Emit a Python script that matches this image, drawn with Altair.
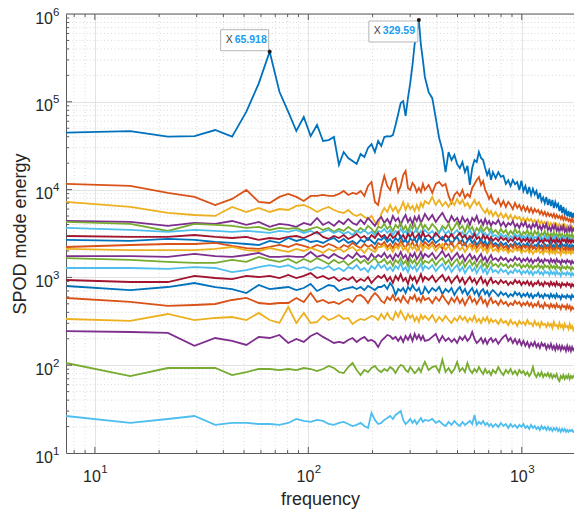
import altair as alt
import pandas as pd

FONT = "Liberation Sans"
AX = "#5a5a5a"
TXT = "#262626"

# frequency bins (bin index k, bin width in Hz)
DF_HZ = 7.32421875
K = list(range(1, 49)) + list(range(50, 101, 2)) + list(range(103, 242, 3))
freq = [k * DF_HZ for k in K]

m01 = [44500, 46400, 40100, 40700, 47700, 40100, 77100, 162000, 372000, 130000, 76600, 46500, 67100, 40700, 54500, 35800, 36700, 39700, 19100, 26800, 22900, 21200, 19600, 25400, 23500, 29800, 33000, 26800, 35800, 31400, 39700, 40700, 40100, 41700, 54500, 72600, 96900, 102000, 68900, 110000, 164000, 262000, 455000, 608000, 855000, 444000, 299000, 192000,
       129000, 110000, 65300, 38700, 28200, 15800, 26800, 21700, 24800, 19500, 17600, 20600, 15800, 18600, 11300, 17600, 21700, 20600, 26800, 22900, 21700, 17600, 14700, 16700, 12900, 15800,
       13500, 15800, 14000, 14400, 11600, 12800, 11000, 12900, 11500, 12200, 9890, 12600, 9630, 11000, 8900, 10700, 8670, 10200, 8800, 9630, 7800, 9150, 7400, 8100, 7020, 8220, 6680, 7800, 6500, 7610, 6160, 7230, 6400, 6860, 5700, 6680, 5410, 6330, 5270, 5800, 5000, 5700, 4880, 5550, 4760, 5410, 4640]
m02 = [11590, 11000, 9160, 8250, 6680, 7830, 9910, 7230, 7040, 8250, 8920, 8250, 7420, 8470, 8470, 8690, 8470, 8470, 8920, 9650, 8690, 9160, 8920, 9650, 8470, 11000, 12220, 7230, 6680, 10440, 14290, 11000, 9910, 12870, 13560, 9400, 11000, 14670, 16290, 10440, 9910, 11900, 11000, 9400, 10440, 9400, 11590, 9910,
       11290, 9160, 11590, 12220, 11000, 11590, 8470, 7040, 8690, 9400, 8470, 9910, 8040, 8920, 8250, 10440, 11590, 12870, 13920, 11290, 12540, 9910, 8920, 7830, 8690, 7420,
       6860, 7830, 6510, 7420, 6340, 7230, 6680, 6010, 7040, 6170, 6680, 5860, 6510, 5710, 6340, 5560, 6170, 5420, 6010, 5560, 5860, 5280, 5710, 5140, 5560, 5010, 5420, 5010, 5280, 4880, 5280, 4750, 5140, 4750, 5010, 4630, 5010, 4510, 4880, 4510, 4750, 4390, 4630, 4280, 4630, 4280, 4510]
m03 = [7230, 6340, 5420, 5140, 5010, 6340, 5560, 6170, 5560, 6010, 5860, 6510, 6680, 6170, 5560, 6010, 6340, 5860, 5560, 5420, 5860, 5280, 5010, 5280, 4880, 4630, 5010, 4280, 3960, 5280, 6170, 5560, 6680, 5710, 6340, 5420, 6170, 7230, 5860, 6860, 6010, 6510, 5710, 6680, 5860, 7040, 6340, 7420,
       6860, 8250, 6680, 7610, 6510, 7230, 6340, 7420, 6680, 7830, 6860, 7610, 6510, 7040, 6170, 6860, 7610, 6680, 7230, 6340, 5860, 5420, 6010, 5280, 5710, 5010,
       5560, 4880, 5420, 4750, 5280, 4630, 5140, 4510, 5010, 4630, 4880, 4390, 4750, 4280, 4750, 4390, 4630, 4170, 4510, 4170, 4510, 4060, 4390, 4060, 4280, 3960, 4280, 3860, 4170, 3860, 4170, 3760, 4060, 3760, 4060, 3660, 3960, 3660, 3960, 3570, 3860, 3570, 3860, 3570, 3760, 3470, 3760]
m04 = [4390, 4280, 3860, 4170, 4060, 4390, 3960, 4280, 3760, 4060, 3960, 3760, 4170, 3960, 4750, 3960, 4280, 3860, 4390, 4060, 4630, 4170, 3960, 4510, 4060, 4750, 4280, 3860, 4510, 4880, 4170, 4630, 4060, 5010, 4390, 4750, 3960, 4630, 5140, 4280, 4750, 4060, 4880, 4390, 5010, 4170, 4630, 5280,
       4510, 5140, 4280, 4880, 5420, 4630, 4170, 5010, 4390, 4750, 4060, 4880, 4280, 4630, 3960, 4750, 4390, 5010, 4170, 4510, 3960, 4630, 4060, 4390, 3860, 4280,
       4060, 4510, 3860, 4280, 3760, 4170, 3960, 4390, 3760, 4060, 3660, 4170, 3860, 4280, 3660, 3960, 3570, 4060, 3760, 4170, 3570, 3860, 3470, 3960, 3660, 4060, 3470, 3760, 3380, 3860, 3570, 3960, 3380, 3660, 3300, 3760, 3470, 3860, 3300, 3570, 3210, 3660, 3380, 3760, 3300, 3570, 3380]
m05 = [4280, 4060, 3380, 4060, 3960, 3860, 3660, 3760, 3470, 3660, 3570, 3660, 3380, 3570, 3760, 3470, 3660, 3300, 3570, 3380, 3760, 3470, 3300, 3660, 3380, 3860, 3570, 3210, 3760, 3660, 4060, 3570, 3860, 3380, 3960, 3660, 4170, 3470, 3860, 3300, 3960, 3570, 4060, 3380, 3760, 4170, 3570, 3960,
       3470, 4060, 3660, 3210, 3860, 3570, 4060, 3380, 3760, 4280, 3570, 3860, 3300, 3960, 3470, 3760, 3210, 3660, 3380, 3860, 3300, 3570, 3760, 3380, 3660, 3210,
       3470, 3130, 3570, 3210, 3470, 3040, 3380, 3130, 3570, 3210, 3380, 2960, 3300, 3130, 3470, 3040, 3300, 2960, 3380, 3130, 3300, 2890, 3210, 3040, 3380, 2960, 3210, 2890, 3130, 2960, 3300, 2890, 3130, 2810, 3210, 2960, 3130, 2810, 3040, 2890, 3210, 2810, 3040, 2890, 3130, 2810, 3040]
m06 = [3660, 3470, 3300, 3470, 3380, 3300, 3380, 3300, 3210, 3380, 3300, 3470, 3210, 3380, 3130, 3300, 3470, 3210, 3380, 3130, 3300, 3040, 3380, 3210, 3470, 3130, 3300, 3040, 3380, 3300, 3570, 3210, 3470, 3040, 3380, 3130, 3570, 3210, 3380, 2960, 3470, 3130, 3300, 3570, 3040, 3380, 3210, 3470,
       3130, 3380, 2960, 3300, 3570, 3130, 3380, 2960, 3210, 3470, 3040, 3300, 2890, 3210, 3470, 3040, 3300, 2960, 3210, 3470, 2960, 3210, 2890, 3130, 3380, 2960,
       3040, 2810, 3130, 2890, 3040, 2740, 2960, 2810, 3130, 2890, 3040, 2740, 2960, 2810, 3040, 2740, 2960, 2670, 2890, 2810, 3040, 2740, 2890, 2670, 2960, 2740, 2890, 2670, 2810, 2740, 2960, 2670, 2890, 2600, 2810, 2740, 2890, 2670, 2810, 2600, 2890, 2670, 2810, 2600, 2740, 2670, 2810]
m07 = [2960, 2890, 2890, 3040, 2890, 2810, 2890, 2670, 2810, 2740, 2890, 2960, 2810, 3040, 3300, 2890, 2740, 2960, 2810, 3040, 2740, 2890, 3130, 2810, 2960, 2670, 3040, 2810, 3210, 2890, 3040, 2740, 3130, 2810, 2960, 3300, 2810, 3040, 2670, 3130, 2890, 3210, 2740, 2960, 3130, 2810, 3300, 2890,
       3040, 2740, 3210, 2890, 2670, 3040, 2810, 3130, 2740, 2960, 3210, 2810, 3040, 2670, 2960, 2810, 3130, 2740, 2890, 2600, 3040, 2740, 2960, 2670, 2890, 2600,
       2810, 2600, 2890, 2670, 2810, 2530, 2740, 2600, 2890, 2670, 2810, 2530, 2740, 2600, 2810, 2530, 2740, 2470, 2670, 2600, 2810, 2530, 2670, 2470, 2740, 2600, 2670, 2470, 2810, 2530, 2670, 2470, 2740, 2530, 2670, 2400, 2740, 2600, 2670, 2470, 2740, 2530, 2670, 2470, 2670, 2530, 2670]
m08 = [2670, 2600, 2740, 2670, 2530, 2470, 2400, 2340, 2600, 2470, 2810, 2600, 2740, 2530, 2600, 2470, 2670, 2810, 2530, 2740, 2470, 2600, 2400, 2670, 2530, 2810, 2600, 2400, 2740, 2670, 2890, 2530, 2740, 2470, 2810, 2600, 2960, 2530, 2670, 2400, 2810, 2600, 2740, 2470, 2890, 2670, 2530, 2810,
       2530, 2810, 2470, 2670, 2890, 2530, 2740, 2400, 2670, 2890, 2470, 2670, 2340, 2600, 2810, 2470, 2670, 2340, 2530, 2740, 2400, 2600, 2280, 2530, 2670, 2340,
       2470, 2280, 2530, 2340, 2470, 2220, 2400, 2280, 2530, 2340, 2470, 2220, 2400, 2280, 2470, 2220, 2400, 2160, 2340, 2280, 2470, 2220, 2340, 2160, 2400, 2280, 2340, 2160, 2470, 2220, 2340, 2160, 2400, 2220, 2340, 2110, 2400, 2280, 2340, 2160, 2400, 2220, 2340, 2160, 2340, 2220, 2340]
m09 = [2220, 2340, 2400, 2400, 2470, 2280, 2160, 2110, 2220, 2340, 2220, 2400, 2280, 2160, 2340, 2220, 2400, 2280, 2110, 2340, 2220, 2470, 2280, 2160, 2400, 2220, 2340, 2110, 2470, 2340, 2530, 2220, 2400, 2160, 2470, 2280, 2600, 2340, 2160, 2470, 2280, 2530, 2220, 2400, 2110, 2470, 2280, 2530,
       2280, 2530, 2220, 2400, 2110, 2470, 2280, 2530, 2160, 2340, 2600, 2280, 2470, 2160, 2400, 2220, 2470, 2160, 2340, 2530, 2220, 2400, 2110, 2340, 2530, 2220,
       2340, 2110, 2400, 2160, 2280, 2050, 2340, 2160, 2400, 2110, 2280, 2050, 2340, 2160, 2280, 2050, 2340, 2110, 2220, 2050, 2280, 2110, 2220, 2000, 2280, 2110, 2220, 2000, 2280, 2050, 2160, 2000, 2280, 2110, 2160, 2000, 2220, 2050, 2160, 2000, 2220, 2050, 2160, 2000, 2160, 2050, 2160]
m10 = [2110, 2050, 2050, 2050, 2110, 2220, 2050, 2000, 2160, 2050, 1950, 2110, 2000, 2160, 2050, 1900, 2110, 2000, 2160, 1950, 2110, 2220, 2000, 2110, 1900, 2160, 2050, 1950, 2220, 2220, 2340, 2050, 2220, 1950, 2280, 2110, 2400, 2050, 2220, 1950, 2340, 2110, 2280, 2000, 2160, 2400, 2050, 2280,
       2110, 2340, 2000, 2220, 2400, 2050, 2280, 1950, 2160, 2340, 2050, 2220, 1950, 2160, 2340, 2050, 2220, 1950, 2110, 2280, 2000, 2160, 1900, 2110, 2280, 2000,
       2110, 1950, 2160, 2000, 2110, 1900, 2050, 1950, 2160, 2000, 2110, 1900, 2050, 1950, 2110, 1900, 2050, 1850, 2000, 1950, 2110, 1900, 2000, 1850, 2050, 1950, 2000, 1850, 2050, 1900, 2000, 1850, 2050, 1900, 1950, 1800, 2050, 1900, 1950, 1850, 2000, 1900, 1950, 1850, 2000, 1900, 1950]
m11 = [1750, 1750, 1710, 1850, 1750, 1710, 1800, 1900, 1710, 1710, 1750, 1710, 1710, 1950, 1710, 1800, 1660, 1850, 1710, 1620, 1800, 1660, 1900, 1710, 1750, 1580, 1850, 1660, 1800, 1710, 1900, 1660, 1800, 1580, 1850, 1710, 1950, 1660, 1800, 1540, 1850, 1710, 1900, 1620, 1750, 1950, 1660, 1850,
       1710, 1900, 1620, 1800, 2000, 1710, 1850, 1580, 1750, 1900, 1660, 1800, 1540, 1710, 1850, 1620, 1750, 1540, 1710, 1850, 1580, 1710, 1500, 1660, 1800, 1580,
       1660, 1540, 1710, 1580, 1660, 1500, 1620, 1540, 1710, 1580, 1660, 1500, 1620, 1540, 1660, 1500, 1620, 1460, 1580, 1540, 1660, 1500, 1580, 1460, 1620, 1540, 1580, 1460, 1620, 1500, 1580, 1460, 1620, 1500, 1540, 1420, 1580, 1500, 1540, 1460, 1580, 1500, 1540, 1420, 1540, 1460, 1500]
m12 = [1660, 1580, 1500, 1460, 1460, 1580, 1500, 1710, 1580, 1500, 1620, 1460, 1620, 1500, 1660, 1540, 1420, 1580, 1460, 1540, 1380, 1500, 1620, 1460, 1580, 1420, 1540, 1660, 1460, 1500, 1620, 1420, 1540, 1350, 1580, 1460, 1660, 1420, 1540, 1350, 1620, 1460, 1580, 1380, 1500, 1660, 1420, 1540,
       1460, 1620, 1380, 1540, 1660, 1420, 1580, 1350, 1500, 1620, 1380, 1540, 1310, 1460, 1580, 1380, 1500, 1310, 1460, 1580, 1350, 1460, 1280, 1420, 1540, 1350,
       1420, 1310, 1460, 1350, 1420, 1280, 1380, 1310, 1460, 1350, 1420, 1280, 1380, 1310, 1420, 1280, 1380, 1250, 1350, 1310, 1420, 1280, 1350, 1250, 1380, 1310, 1350, 1250, 1380, 1280, 1350, 1250, 1380, 1280, 1310, 1210, 1350, 1280, 1310, 1250, 1350, 1280, 1310, 1210, 1310, 1250, 1280]
m13 = [1280, 1280, 1250, 1310, 1280, 1150, 1210, 1310, 1380, 1310, 1380, 1250, 1310, 1210, 1310, 1250, 1350, 1210, 1280, 1180, 1310, 1250, 1380, 1210, 1280, 1150, 1350, 1250, 1420, 1280, 1380, 1210, 1310, 1180, 1350, 1250, 1460, 1210, 1310, 1150, 1380, 1250, 1350, 1180, 1280, 1420, 1210, 1350,
       1250, 1380, 1180, 1310, 1420, 1210, 1350, 1150, 1280, 1380, 1180, 1310, 1120, 1250, 1350, 1180, 1280, 1120, 1250, 1350, 1150, 1250, 1090, 1210, 1310, 1150,
       1210, 1120, 1250, 1150, 1210, 1090, 1180, 1120, 1250, 1150, 1210, 1090, 1180, 1120, 1210, 1090, 1180, 1065, 1150, 1120, 1210, 1090, 1150, 1065, 1180, 1120, 1150, 1065, 1180, 1090, 1150, 1065, 1180, 1090, 1120, 1040, 1150, 1090, 1120, 1065, 1150, 1090, 1120, 1040, 1120, 1065, 1120]
m14 = [934, 886, 886, 1040, 984, 958, 1040, 1010, 1040, 984, 1065, 984, 1040, 1120, 984, 1040, 958, 1010, 910, 984, 934, 1010, 886, 958, 910, 1010, 863, 958, 1040, 984, 1065, 910, 1010, 863, 1040, 934, 1090, 910, 984, 841, 1040, 934, 1010, 863, 958, 1090, 910, 1010,
       934, 1040, 886, 984, 1065, 910, 1010, 863, 958, 1040, 886, 984, 841, 934, 1010, 886, 958, 841, 934, 1010, 863, 934, 819, 910, 984, 863,
       910, 841, 934, 863, 910, 819, 886, 841, 934, 863, 910, 819, 886, 841, 910, 819, 886, 798, 863, 841, 910, 819, 863, 798, 886, 841, 863, 798, 886, 819, 863, 798, 886, 819, 841, 777, 863, 819, 841, 798, 863, 819, 841, 777, 841, 798, 841]
m15 = [798, 718, 777, 863, 777, 737, 664, 819, 737, 757, 777, 718, 757, 841, 700, 757, 819, 798, 700, 737, 757, 777, 737, 777, 718, 798, 757, 718, 777, 777, 819, 737, 863, 777, 630, 737, 700, 757, 664, 777, 718, 819, 737, 700, 757, 647, 664, 777,
       664, 757, 700, 777, 647, 737, 682, 757, 630, 718, 777, 664, 737, 630, 700, 757, 647, 718, 614, 700, 737, 647, 700, 614, 682, 718,
       664, 614, 682, 630, 664, 598, 647, 614, 682, 630, 664, 598, 647, 614, 664, 598, 647, 583, 630, 614, 664, 598, 630, 583, 647, 614, 630, 583, 647, 598, 630, 583, 647, 598, 614, 568, 630, 598, 614, 583, 630, 598, 614, 568, 630, 598, 614]
m16 = [583, 525, 473, 485, 498, 553, 583, 511, 498, 511, 511, 583, 525, 664, 525, 553, 511, 525, 498, 539, 568, 525, 614, 630, 583, 511, 598, 664, 614, 539, 511, 598, 553, 630, 539, 583, 525, 614, 553, 511, 598, 568, 630, 539, 583, 525, 614, 553,
       583, 511, 598, 539, 630, 553, 498, 583, 525, 598, 511, 568, 485, 553, 614, 525, 568, 498, 553, 598, 511, 553, 473, 539, 583, 511,
       539, 485, 553, 498, 525, 473, 511, 485, 539, 498, 525, 473, 511, 485, 525, 473, 511, 460, 498, 473, 525, 460, 485, 449, 511, 473, 485, 449, 498, 460, 485, 449, 498, 460, 473, 437, 485, 460, 473, 437, 485, 449, 473, 426, 460, 437, 449]
m17 = [336, 319, 383, 327, 345, 354, 327, 394, 327, 303, 460, 303, 394, 303, 311, 364, 327, 345, 373, 336, 345, 295, 319, 336, 327, 345, 364, 354, 327, 383, 336, 394, 345, 327, 404, 354, 415, 364, 327, 383, 345, 373, 319, 354, 311, 373, 336, 364,
       327, 373, 311, 354, 319, 364, 327, 303, 345, 319, 364, 327, 354, 311, 345, 319, 364, 311, 336, 303, 345, 319, 354, 303, 336, 311,
       327, 295, 336, 303, 319, 287, 327, 295, 311, 280, 319, 295, 311, 287, 327, 295, 303, 280, 319, 287, 303, 272, 311, 287, 295, 272, 303, 280, 295, 265, 311, 280, 287, 265, 303, 272, 287, 258, 295, 272, 280, 258, 295, 265, 280, 252, 272]
m18 = [245, 239, 233, 166, 204, 189, 170, 210, 204, 221, 179, 199, 184, 215, 233, 210, 194, 179, 184, 179, 194, 204, 184, 199, 210, 189, 194, 184, 161, 189, 204, 221, 215, 199, 210, 189, 210, 184, 215, 194, 221, 189, 227, 199, 221, 194, 215, 189,
       194, 210, 227, 184, 215, 189, 204, 184, 199, 179, 210, 194, 215, 189, 204, 239, 199, 179, 189, 204, 179, 199, 175, 194, 204, 184,
       199, 175, 194, 210, 221, 189, 204, 179, 199, 175, 194, 170, 189, 166, 184, 161, 179, 166, 184, 161, 175, 157, 179, 166, 175, 153, 170, 157, 175, 153, 166, 149, 170, 153, 166, 149, 166, 153, 161, 145, 166, 149, 161, 145, 161, 149, 157]
m19 = [106, 75.3, 92.9, 92.9, 92.9, 77.3, 83.6, 90.5, 90.5, 88.1, 90.5, 88.1, 92.9, 90.5, 85.8, 90.5, 97.9, 92.9, 83.6, 81.4, 95.3, 106, 88.1, 77.3, 88.1, 83.6, 92.9, 97.9, 88.1, 83.6, 90.5, 85.8, 95.3, 90.5, 81.4, 92.9, 100.5, 97.9, 88.1, 83.6, 95.3, 88.1, 81.4, 85.8, 92.9, 83.6, 97.9, 109,
       88.1, 95.3, 97.9, 83.6, 115, 83.6, 92.9, 81.4, 90.5, 109, 85.8, 92.9, 83.6, 106, 88.1, 81.4, 90.5, 83.6, 95.3, 85.8, 79.3, 90.5, 81.4, 85.8, 77.3, 88.1,
       81.4, 95.3, 83.6, 77.3, 88.1, 81.4, 90.5, 79.3, 85.8, 77.3, 88.1, 81.4, 85.8, 77.3, 83.6, 75.3, 81.4, 95.3, 79.3, 73.3, 81.4, 75.3, 83.6, 73.3, 79.3, 75.3, 81.4, 73.3, 79.3, 71.4, 77.3, 73.3, 79.3, 69.6, 66.0, 75.3, 71.4, 77.3, 69.6, 75.3, 71.4, 77.3, 69.6, 75.3, 71.4, 75.3, 73.3]
m20 = [26.4, 22.0, 24.4, 26.4, 20.9, 22.0, 22.0, 21.4, 21.4, 20.9, 22.0, 24.4, 23.2, 22.6, 23.8, 23.2, 21.4, 20.9, 22.0, 22.6, 21.4, 20.3, 20.9, 22.0, 20.3, 19.3, 28.6, 23.8, 21.4, 22.0, 23.8, 25.0, 26.4, 24.4, 27.1, 28.6, 30.1, 23.8, 21.4, 22.6, 24.4, 22.0, 23.8, 21.4, 23.2, 25.0, 22.6, 23.8,
       23.2, 24.4, 22.0, 23.2, 21.4, 20.3, 22.6, 20.9, 23.2, 21.4, 20.3, 22.6, 20.9, 22.0, 23.2, 21.4, 27.1, 20.9, 22.6, 21.4, 23.2, 20.9, 22.0, 20.3, 21.4, 19.8,
       21.4, 19.8, 22.0, 20.3, 21.4, 19.3, 21.4, 19.8, 20.9, 19.3, 20.9, 19.8, 21.4, 19.3, 20.3, 18.8, 20.9, 19.3, 20.3, 18.8, 19.8, 18.3, 20.3, 18.8, 19.8, 18.3, 19.8, 18.3, 19.3, 17.8, 19.3, 18.3, 19.3, 17.8, 18.8, 17.4, 18.8, 17.8, 18.8, 17.4, 18.3, 17.4, 18.3, 17.8, 18.3, 17.4, 17.8]

modes = [m01, m02, m03, m04, m05, m06, m07, m08, m09, m10,
         m11, m12, m13, m14, m15, m16, m17, m18, m19, m20]
palette = ["#0072BD", "#D95319", "#EDB120", "#7E2F8E", "#77AC30", "#4DBEEE", "#A2142F"]

# x / y tick positions
x_major = [10, 100, 1000]
x_minor = [8, 9, 20, 30, 40, 50, 60, 70, 80, 90, 200, 300, 400, 500, 600, 700, 800, 900]
y_major = [10, 100, 1000, 10000, 100000, 1000000]
y_minor = [m * 10 ** e for e in range(1, 6) for m in range(2, 10)]

# data tips
tip_k = [9, 45]
tip_txt = ["65.918", "329.59"]

rows = []
for i, vals in enumerate(modes):
    for f, v in zip(freq, vals):
        rows.append({"f": f, "E": v, "mode": f"m{i + 1:02d}"})
data = pd.DataFrame(rows)
mode_names = [f"m{i + 1:02d}" for i in range(len(modes))]
mode_colors = [palette[i % len(palette)] for i in range(len(modes))]

W, H = 508, 439
xs = alt.Scale(type="log", domain=[DF_HZ, 1757.0])
ys = alt.Scale(type="log", domain=[10, 1000000])

x_axis = alt.Axis(values=x_major, labels=False, grid=True, gridColor="#e3e3e3",
                  gridWidth=1, domainColor=AX, domainWidth=1, ticks=False,
                  title="frequency", titleFont=FONT, titleFontSize=18, titleFontWeight="normal",
                  titleColor=TXT, titleX=W / 2, titleY=51, titleBaseline="alphabetic")
y_axis = alt.Axis(values=y_major, labels=False, grid=True, gridColor="#e3e3e3",
                  gridWidth=1, domainColor=AX, domainWidth=1, ticks=False,
                  title="SPOD mode energy", titleFont=FONT, titleFontSize=18, titleFontWeight="normal",
                  titleColor=TXT, titleAngle=270, titleX=-46, titleY=H / 2,
                  titleBaseline="middle", titleAlign="center")

def X(field):
    return alt.X(field, scale=xs, axis=x_axis)

def Y(field):
    return alt.Y(field, scale=ys, axis=y_axis)

minor_dash = [1, 2.5]
gx = alt.Chart(pd.DataFrame({"v": x_minor})).mark_rule(
    color="#cfcfcf", strokeWidth=0.8, strokeDash=minor_dash).encode(x=X("v:Q"))
gy = alt.Chart(pd.DataFrame({"v": y_minor})).mark_rule(
    color="#cfcfcf", strokeWidth=0.8, strokeDash=minor_dash).encode(y=Y("v:Q"))

lines = alt.Chart(data).mark_line(strokeWidth=1.8, clip=True).encode(
    x=X("f:Q"),
    y=Y("E:Q"),
    color=alt.Color("mode:N", scale=alt.Scale(domain=mode_names, range=mode_colors), legend=None),
    order=alt.Order("f:Q"),
)

layers = [gx, gy, lines]

def yticks(vals, length):
    return alt.Chart(pd.DataFrame({"v": vals})).mark_rule(color=AX, strokeWidth=1).encode(
        y=Y("v:Q"), x=alt.value(0), x2=alt.value(length))

def xticks(vals, length, top):
    y0, y1 = (0, length) if top else (H, H - length)
    return alt.Chart(pd.DataFrame({"v": vals})).mark_rule(color=AX, strokeWidth=1).encode(
        x=X("v:Q"), y=alt.value(y0), y2=alt.value(y1))

layers += [yticks(y_major[1:-1], 6), yticks(y_minor, 3),
           xticks(x_major, 6, False), xticks(x_minor, 3, False),
           xticks(x_major, 6, True), xticks(x_minor, 3, True)]
top_line = alt.Chart(pd.DataFrame({"v": [0]})).mark_rule(color=AX, strokeWidth=1).encode(
    x=alt.value(0), x2=alt.value(W), y=alt.value(0))
layers.append(top_line)

# tick labels: base "10" plus raised exponent
xl = pd.DataFrame({"v": x_major, "p": [str(len(str(v)) - 1) for v in x_major]})
yl = pd.DataFrame({"v": y_major, "p": [str(len(str(v)) - 1) for v in y_major]})
layers += [
    alt.Chart(xl).mark_text(align="right", baseline="alphabetic", dx=6, font=FONT,
                            fontSize=16, color=TXT).encode(
        x=X("v:Q"), y=alt.value(H + 29), text=alt.value("10")),
    alt.Chart(xl).mark_text(align="left", baseline="alphabetic", dx=6.5, font=FONT,
                            fontSize=11.5, color=TXT).encode(
        x=X("v:Q"), y=alt.value(H + 20), text="p:N"),
    alt.Chart(yl).mark_text(align="right", baseline="alphabetic", dy=9.5, font=FONT,
                            fontSize=16, color=TXT).encode(
        y=Y("v:Q"), x=alt.value(-13), text=alt.value("10")),
    alt.Chart(yl).mark_text(align="left", baseline="alphabetic", dy=1.5, font=FONT,
                            fontSize=11.5, color=TXT).encode(
        y=Y("v:Q"), x=alt.value(-13), text="p:N"),
]

# data tips
tip_geom = [  # (rect offsets x, x2, y, y2), (text dy)
    ((-49, -1, -22, -1), -11.5),
    ((-50, -1, 1, 22), 11.5),
]
for (k, txt), ((xo, x2o, yo, y2o), tdy) in zip(zip(tip_k, tip_txt), tip_geom):
    td = pd.DataFrame({"f": [k * DF_HZ], "E": [m01[K.index(k)]], "t": [txt]})
    base = alt.Chart(td)
    box = base.mark_rect(fill="white", fillOpacity=0.95, stroke="#b5b5b5", strokeWidth=1,
                         xOffset=xo, x2Offset=x2o, yOffset=yo, y2Offset=y2o).encode(
        x=X("f:Q"), x2="f:Q", y=Y("E:Q"), y2="E:Q")
    lab = base.mark_text(align="left", baseline="middle", dx=xo + 5, dy=tdy, font=FONT,
                         fontSize=10.5, color="#404040").encode(
        x=X("f:Q"), y=Y("E:Q"), text=alt.value("X"))
    val = base.mark_text(align="left", baseline="middle", dx=xo + 14, dy=tdy, font=FONT,
                         fontSize=10.5, fontWeight="bold", color="#1a9cf0").encode(
        x=X("f:Q"), y=Y("E:Q"), text="t:N")
    dot = base.mark_circle(size=16, color="#1a1a1a", opacity=1).encode(
        x=X("f:Q"), y=Y("E:Q"))
    layers += [box, lab, val, dot]

chart = alt.layer(*layers).properties(
    width=W, height=H,
    padding={"left": 66, "top": 14, "right": 0, "bottom": 61},
    autosize=alt.AutoSizeParams(type="none"),
    background="white",
).configure_view(stroke=None)

chart.save("out.html", embed_options={"renderer": "svg", "actions": False})
